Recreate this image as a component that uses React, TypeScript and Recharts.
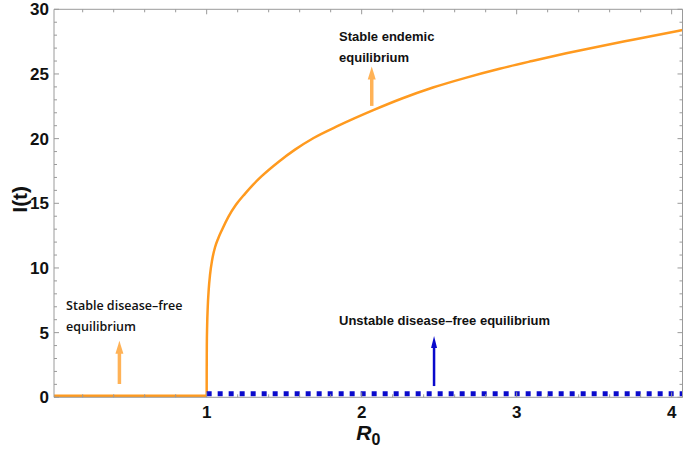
import React from "react"
import {
  LineChart,
  Line,
  XAxis,
  YAxis,
  ReferenceLine,
  ReferenceDot,
} from "recharts"

// orange branch: I(t) along R0
const stableFreeBranch = [
  { x: 0.015, y: 0.12 },
  { x: 1.0, y: 0.12 },
]

const endemicBranch = [
  { x: 1.0, y: 0.12 },
  { x: 1.0002, y: 2.0 },
  { x: 1.001, y: 4.0 },
  { x: 1.003, y: 5.5 },
  { x: 1.007, y: 7.0 },
  { x: 1.013, y: 8.3 },
  { x: 1.022, y: 9.5 },
  { x: 1.035, y: 10.6 },
  { x: 1.054, y: 11.6 },
  { x: 1.075, y: 12.3 },
  { x: 1.097, y: 12.9 },
  { x: 1.14, y: 13.95 },
  { x: 1.19, y: 14.9 },
  { x: 1.248, y: 15.75 },
  { x: 1.3, y: 16.45 },
  { x: 1.355, y: 17.1 },
  { x: 1.463, y: 18.2 },
  { x: 1.57, y: 19.15 },
  { x: 1.69, y: 20.05 },
  { x: 1.85, y: 21.0 },
  { x: 2.075, y: 22.2 },
  { x: 2.26, y: 23.1 },
  { x: 2.46, y: 23.95 },
  { x: 2.67, y: 24.7 },
  { x: 2.89, y: 25.4 },
  { x: 3.1, y: 26.0 },
  { x: 3.32, y: 26.6 },
  { x: 3.54, y: 27.15 },
  { x: 3.75, y: 27.65 },
  { x: 4.07, y: 28.4 },
]

// blue dotted: unstable disease-free equilibrium
const unstableFreeBranch = [
  { x: 1.0, y: 0.28 },
  { x: 4.07, y: 0.28 },
]

const xTicks = [
  0.2, 0.4, 0.6, 0.8, 1, 1.2, 1.4, 1.6, 1.8, 2, 2.2, 2.4, 2.6, 2.8, 3, 3.2, 3.4,
  3.6, 3.8, 4,
]
const yTicks = [
  0, 1, 2, 3, 4, 5, 6, 7, 8, 9, 10, 11, 12, 13, 14, 15, 16, 17, 18, 19, 20, 21,
  22, 23, 24, 25, 26, 27, 28, 29, 30,
]

const axisColor = "#9a9a9a"
const orange = "#ff9a1f"
const arrowOrange = "#ffb256"
const blue = "#0a0acc"
const tickFont = "'Liberation Sans', Arial, sans-serif"

const isMajorX = (v: number) => Math.abs(v - Math.round(v)) < 1e-6
const isMajorY = (v: number) => v % 5 === 0

const LeftTick = (p: any) => {
  const v = p.payload.value
  const major = isMajorY(v)
  return (
    <g>
      <line x1={p.x} x2={p.x + (major ? 5 : 3)} y1={p.y} y2={p.y} stroke={axisColor} />
      {major && (
        <text x={p.x - 5} y={p.y} dy={6} textAnchor="end" fontSize={17} fontWeight="bold" fontFamily={tickFont} fill="#111">
          {v}
        </text>
      )}
    </g>
  )
}

const RightTick = (p: any) => {
  const major = isMajorY(p.payload.value)
  return <line x1={p.x} x2={p.x - (major ? 5 : 3)} y1={p.y} y2={p.y} stroke={axisColor} />
}

const BottomTick = (p: any) => {
  const v = p.payload.value
  const major = isMajorX(v)
  return (
    <g>
      <line x1={p.x} x2={p.x} y1={p.y} y2={p.y - (major ? 5 : 3)} stroke={axisColor} />
      {major && (
        <text x={p.x} y={p.y + 21} textAnchor="middle" fontSize={17} fontWeight="bold" fontFamily={tickFont} fill="#111">
          {Math.round(v)}
        </text>
      )}
    </g>
  )
}

const TopTick = (p: any) => {
  const major = isMajorX(p.payload.value)
  return <line x1={p.x} x2={p.x} y1={p.y} y2={p.y + (major ? 5 : 3)} stroke={axisColor} />
}

const arrow = (color: string, shaft: number, headW: number, headL: number) => (p: any) => {
  const { x1, y1, x2, y2 } = p
  return (
    <g>
      <line x1={x1} y1={y1} x2={x2} y2={y2 + headL - 1} stroke={color} strokeWidth={shaft} />
      <polygon points={`${x2},${y2} ${x2 - headW / 2},${y2 + headL} ${x2 + headW / 2},${y2 + headL}`} fill={color} />
    </g>
  )
}

const note = (lines: string[], family: string, weight: number, size: number, gap: number) => (p: any) => (
  <text x={p.cx} y={p.cy} fontFamily={family} fontWeight={weight} fontSize={size} fill="#111">
    {lines.map((t, i) => (
      <tspan key={i} x={p.cx} dy={i === 0 ? 0 : gap}>
        {t}
      </tspan>
    ))}
  </text>
)

const YTitle = (props: any) => {
  const vb = props.viewBox
  const cx = vb.x + 9
  const cy = vb.y + vb.height / 2 - 4
  return (
    <text transform={`translate(${cx},${cy}) rotate(-90)`} textAnchor="middle" dominantBaseline="central" fontSize={21} fontWeight="bold" fontFamily={tickFont} fill="#111">
      I(t)
    </text>
  )
}

const XTitle = (props: any) => {
  const vb = props.viewBox
  const cx = vb.x + vb.width / 2 - 12
  const cy = vb.y + 43
  return (
    <text x={cx} y={cy} fontSize={21} fontWeight="bold" fontFamily={tickFont} fill="#111">
      <tspan fontStyle="italic">R</tspan>
      <tspan fontSize={16} dy={5}>0</tspan>
    </text>
  )
}

export default function App() {
  return (
    <div style={{ position: "absolute", left: 0, top: 0, background: "#fff" }}>
      <LineChart width={685} height={453} margin={{ top: 8.3, right: 1.5, bottom: 25.7, left: 10 }}>
        <XAxis
          dataKey="x"
          type="number"
          domain={[0.015, 4.07]}
          allowDataOverflow
          ticks={xTicks}
          interval={0}
          height={30}
          tickSize={0}
          tickMargin={0}
          tickLine={false}
          tick={BottomTick}
          stroke={axisColor}
          label={<XTitle />}
        />
        <XAxis
          xAxisId="top"
          orientation="top"
          dataKey="x"
          type="number"
          domain={[0.015, 4.07]}
          allowDataOverflow
          ticks={xTicks}
          interval={0}
          height={1}
          tickSize={0}
          tickMargin={0}
          tickLine={false}
          tick={TopTick}
          stroke={axisColor}
        />
        <YAxis
          type="number"
          domain={[0, 30]}
          allowDataOverflow
          ticks={yTicks}
          interval={0}
          width={44}
          tickSize={0}
          tickMargin={0}
          tickLine={false}
          tick={LeftTick}
          stroke={axisColor}
          label={<YTitle />}
        />
        <YAxis
          yAxisId="right"
          orientation="right"
          type="number"
          domain={[0, 30]}
          allowDataOverflow
          ticks={yTicks}
          interval={0}
          width={1}
          tickSize={0}
          tickMargin={0}
          tickLine={false}
          tick={RightTick}
          stroke={axisColor}
        />
        <Line data={stableFreeBranch} dataKey="y" type="linear" stroke={orange} strokeWidth={2.5} dot={false} isAnimationActive={false} />
        <Line data={endemicBranch} dataKey="y" type="monotone" stroke={orange} strokeWidth={2.5} dot={false} isAnimationActive={false} />
        <Line
          data={unstableFreeBranch}
          dataKey="y"
          type="linear"
          stroke={blue}
          strokeWidth={5}
          strokeDasharray="5 6"
          dot={false}
          isAnimationActive={false}
        />
        <ReferenceLine segment={[{ x: 2.065, y: 22.53 }, { x: 2.065, y: 25.57 }]} shape={arrow(arrowOrange, 3.5, 8, 13)} />
        <ReferenceLine segment={[{ x: 0.437, y: 1.03 }, { x: 0.437, y: 4.38 }]} shape={arrow(arrowOrange, 3.5, 8, 13)} />
        <ReferenceLine segment={[{ x: 2.467, y: 0.87 }, { x: 2.467, y: 4.74 }]} shape={arrow(blue, 2.5, 6, 12)} />
        <ReferenceDot x={1.854} y={27.58} r={0} shape={note(["Stable endemic", "equilibrium"], tickFont, 700, 13, 21)} />
        <ReferenceDot x={0.093} y={6.75} r={0} shape={note(["Stable disease\u2013free", "equilibrium"], "'Open Sans', sans-serif", 600, 12.5, 21)} />
        <ReferenceDot x={1.854} y={5.59} r={0} shape={note(["Unstable disease\u2013free equilibrium"], tickFont, 700, 13, 0)} />
      </LineChart>
    </div>
  )
}
